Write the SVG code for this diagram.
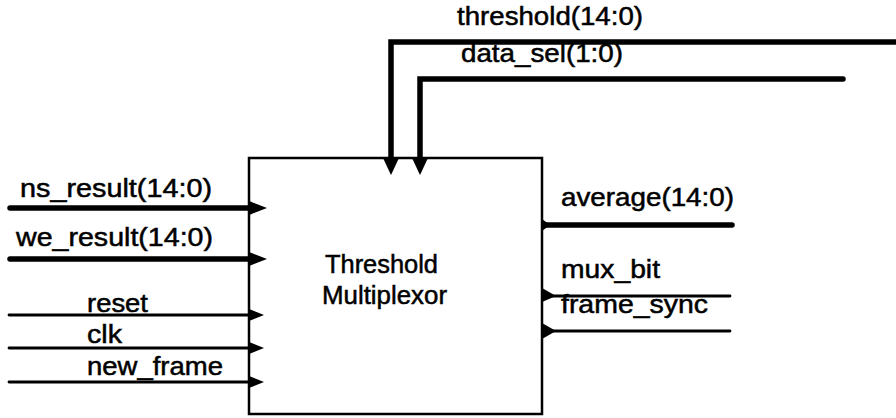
<svg xmlns="http://www.w3.org/2000/svg" width="896" height="418" viewBox="0 0 896 418">
  <defs>
    <style>
      .lbl { font-family: "Liberation Sans", Arial, sans-serif; font-size: 25.5px; fill: #000; stroke: #000; stroke-width: 0.5; }
      .title { font-family: "Liberation Sans", Arial, sans-serif; font-size: 25px; fill: #000; stroke: #000; stroke-width: 0.5; }
      .bus { fill: none; stroke: #000; stroke-width: 5.5; stroke-linecap: round; stroke-linejoin: miter; }
      .wire { fill: none; stroke: #000; stroke-width: 2.8; stroke-linecap: round; }
      .box { fill: #fff; stroke: #000; stroke-width: 2.5; }
      .pin { fill: #000; stroke: none; }
    </style>
  </defs>
  <rect width="896" height="418" fill="#fff"/>

  <!-- connectors -->
  <g id="connectors">
    <!-- inputs -->
    <line class="bus" x1="10" y1="208" x2="249" y2="208"/>
    <line class="bus" x1="10" y1="259" x2="249" y2="259"/>
    <line class="wire" x1="9" y1="315" x2="249" y2="315"/>
    <line class="wire" x1="9" y1="348" x2="249" y2="348"/>
    <line class="wire" x1="9" y1="382" x2="249" y2="382"/>
    <!-- top buses -->
    <path class="bus" d="M391,160 V42 H900"/>
    <path class="bus" d="M420,160 V79 H843"/>
    <!-- outputs -->
    <line class="bus" x1="542" y1="225" x2="732" y2="225"/>
    <line class="wire" x1="542" y1="296" x2="730" y2="296"/>
    <line class="wire" x1="542" y1="331" x2="730" y2="331"/>
  </g>

  <!-- multiplexor block -->
  <g id="threshold-multiplexor">
    <rect class="box" x="249" y="158" width="293" height="256"/>
    <text class="title" x="325" y="273" textLength="113" lengthAdjust="spacingAndGlyphs">Threshold</text>
    <text class="title" x="322" y="304" textLength="125" lengthAdjust="spacingAndGlyphs">Multiplexor</text>
    <!-- input pins -->
    <polygon class="pin" points="249,201 267,208 249,215"/>
    <polygon class="pin" points="249,252 267,259 249,266"/>
    <polygon class="pin" points="249,309 264,315 249,321"/>
    <polygon class="pin" points="249,342 264,348 249,354"/>
    <polygon class="pin" points="249,376 264,382 249,388"/>
    <!-- top pins -->
    <polygon class="pin" points="383,158 399,158 391,175"/>
    <polygon class="pin" points="412,158 428,158 420,175"/>
    <!-- output pins -->
    <polygon class="pin" points="542,219 550,225 542,231"/>
    <polygon class="pin" points="542,288 556,296 542,302"/>
    <polygon class="pin" points="542,323 556,331 542,339"/>
  </g>

  <!-- signal labels -->
  <g id="labels">
    <text class="lbl" x="20" y="197" textLength="192" lengthAdjust="spacingAndGlyphs">ns_result(14:0)</text>
    <text class="lbl" x="16" y="246" textLength="197" lengthAdjust="spacingAndGlyphs">we_result(14:0)</text>
    <text class="lbl" x="87" y="312" textLength="61" lengthAdjust="spacingAndGlyphs">reset</text>
    <text class="lbl" x="87" y="343" textLength="35" lengthAdjust="spacingAndGlyphs">clk</text>
    <text class="lbl" x="87" y="375" textLength="136" lengthAdjust="spacingAndGlyphs">new_frame</text>
    <text class="lbl" x="457" y="25" textLength="186" lengthAdjust="spacingAndGlyphs">threshold(14:0)</text>
    <text class="lbl" x="461" y="62" textLength="162" lengthAdjust="spacingAndGlyphs">data_sel(1:0)</text>
    <text class="lbl" x="561" y="206" textLength="173" lengthAdjust="spacingAndGlyphs">average(14:0)</text>
    <text class="lbl" x="561" y="278" textLength="99" lengthAdjust="spacingAndGlyphs">mux_bit</text>
    <text class="lbl" x="561" y="313" textLength="147" lengthAdjust="spacingAndGlyphs">frame_sync</text>
  </g>
</svg>
